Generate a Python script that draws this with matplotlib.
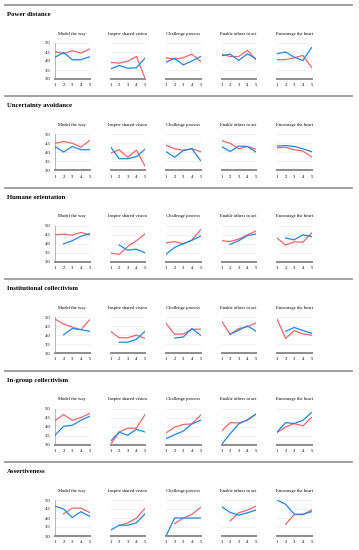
import numpy as np
import matplotlib.pyplot as plt
from matplotlib.lines import Line2D

# --- data ---
practices = ['Model the way', 'Inspire shared vision', 'Challenge process',
             'Enable others to act', 'Encourage the heart']
dimensions = ['Power distance', 'Uncertainty avoidance', 'Humane orientation',
              'Institutional collectivism', 'In-group collectivism', 'Assertiveness']
levels = [1, 2, 3, 4, 5]
y_ticks = [3.0, 3.5, 4.0, 4.5, 5.0]
y_labels = ['3.0', '3.5', '4.0', '4.5', '5.0']
nan = np.nan

# one row per practice, values for levels 1..5
power_red = [[4.53, 4.40, 4.57, 4.44, 4.66],
             [3.92, 3.88, 3.99, 4.25, 3.05],
             [4.18, 4.10, 4.18, 4.38, 3.99],
             [4.38, 4.25, 4.25, 4.59, 4.07],
             [4.07, 4.08, 4.18, 4.31, 3.64]]
power_blue = [[4.21, 4.48, 4.07, 4.07, 4.23],
              [3.56, 3.75, 3.60, 3.62, 4.16],
              [3.93, 4.16, 3.78, 4.00, 4.25],
              [4.29, 4.38, 4.03, 4.40, 4.12],
              [4.40, 4.50, 4.21, 4.03, 4.74]]

uncert_red = [[4.51, 4.60, 4.51, 4.29, 4.65],
              [3.96, 4.15, 3.73, 4.13, 3.24],
              [4.40, 4.20, 4.12, 4.20, 4.04],
              [4.65, 4.51, 4.20, 4.33, 4.18],
              [4.26, 4.28, 4.15, 4.07, 3.76]]
uncert_blue = [[4.33, 4.02, 4.33, 4.15, 4.15],
               [4.31, 3.65, 3.65, 3.76, 4.18],
               [4.04, 3.73, 4.10, 4.20, 3.55],
               [4.33, 4.05, 4.35, 4.33, 4.02],
               [4.35, 4.38, 4.33, 4.20, 4.04]]

humane_red = [[4.51, 4.53, 4.48, 4.63, 4.50],
              [3.49, 3.41, 3.85, 4.17, 4.55],
              [4.05, 4.12, 4.00, 4.20, 4.78],
              [4.17, 4.13, 4.26, 4.50, 4.71],
              [4.32, 3.93, 4.11, 4.09, 4.59]]
humane_blue = [[nan, 4.00, 4.17, 4.42, 4.56],
               [nan, 3.93, 3.65, 3.70, 3.50],
               [3.42, 3.80, 4.00, 4.20, 4.42],
               [nan, 3.97, 4.17, 4.46, 4.55],
               [nan, 4.32, 4.22, 4.50, 4.40]]

inst_red = [[4.90, 4.62, 4.45, 4.30, 4.85],
            [4.22, 3.86, 3.86, 4.01, 3.82],
            [4.66, 4.05, 4.07, 4.33, 4.33],
            [4.79, 4.05, 4.37, 4.47, 4.68],
            [4.90, 3.82, 4.26, 4.07, 4.00]]
inst_blue = [[nan, 4.03, 4.37, 4.31, 4.22],
             [nan, 3.61, 3.61, 3.77, 4.22],
             [nan, 3.84, 3.90, 4.37, 4.00],
             [nan, 4.05, 4.28, 4.52, 4.22],
             [nan, 4.22, 4.43, 4.26, 4.11]]

ingroup_red = [[4.33, 4.67, 4.35, 4.50, 4.72],
               [3.00, 3.70, 3.91, 3.91, 4.67],
               [3.65, 3.97, 4.12, 4.15, 4.63],
               [3.74, 4.22, 4.20, 4.35, 4.69],
               [3.67, 3.98, 4.17, 4.04, 4.50]]
ingroup_blue = [[3.52, 4.02, 4.07, 4.35, 4.57],
                [3.19, 3.69, 3.52, 3.85, 3.70],
                [3.33, 3.55, 3.75, 4.15, 4.35],
                [3.00, 3.60, 4.15, 4.38, 4.70],
                [3.70, 4.22, 4.17, 4.35, 4.78]]

assert_red = [[nan, 4.23, 4.55, 4.55, 4.31],
              [nan, 3.58, 3.73, 3.99, 4.53],
              [nan, 3.68, 4.00, 4.20, 4.59],
              [nan, 3.84, 4.29, 4.44, 4.66],
              [nan, 3.65, 4.19, 4.19, 4.44]]
assert_blue = [[4.66, 4.50, 4.03, 4.35, 4.10],
               [3.32, 3.60, 3.60, 3.73, 4.23],
               [3.00, 4.00, 4.00, 4.00, 4.00],
               [4.63, 4.31, 4.16, 4.29, 4.44],
               [5.00, 4.76, 4.21, 4.21, 4.35]]

red_series = [power_red, uncert_red, humane_red, inst_red, ingroup_red, assert_red]
blue_series = [power_blue, uncert_blue, humane_blue, inst_blue, ingroup_blue, assert_blue]

RED = '#f4646e'
BLUE = '#1e88e0'
SERIF = ['Liberation Serif', 'DejaVu Serif']

# --- layout in pixels ---
W, H = 359, 550
fig = plt.figure(figsize=(W / 100, H / 100), dpi=100)
fig.patch.set_facecolor('white')

def fx(x):
    return x / W

def fy(y):
    return 1 - y / H

col_left = [55, 110.5, 166, 221.5, 277]
ax_w, ax_h = 34.5, 36
row_step = 91.4

for r, dim in enumerate(dimensions):
    top = 5 + r * row_step
    # section rule and heading
    fig.add_artist(Line2D([fx(5), fx(352)], [fy(top), fy(top)], color='#9a9a9a',
                          lw=1.3, transform=fig.transFigure))
    fig.text(fx(7), fy(top + 9.5), dim, fontsize=4.9, fontweight='bold',
             family=SERIF, va='center', ha='left')

    for c, name in enumerate(practices):
        ax = fig.add_axes([fx(col_left[c]), fy(top + 38 + ax_h), fx(ax_w), ax_h / H])
        ax.set_xlim(1, 5)
        ax.set_ylim(3.0, 5.0)
        for yv in y_ticks[1:]:
            ax.axhline(yv, color='#ebebeb', lw=0.5, zorder=0)
        ax.plot(levels, red_series[r][c], color=RED, lw=0.9, zorder=3)
        ax.plot(levels, blue_series[r][c], color=BLUE, lw=0.9, zorder=4)

        for s in ['top', 'right']:
            ax.spines[s].set_visible(False)
        ax.spines['bottom'].set_color('#8c8c8c')
        ax.spines['bottom'].set_linewidth(1.4)
        ax.set_xticks(levels)
        ax.set_xticklabels([str(v) for v in levels], fontsize=3.3, family=SERIF)
        ax.tick_params(axis='x', length=0, pad=3)
        if c == 0:
            ax.spines['left'].set_color('#9a9a9a')
            ax.spines['left'].set_linewidth(0.5)
            ax.set_yticks(y_ticks)
            ax.set_yticklabels(y_labels, fontsize=3.3, family=SERIF)
            ax.tick_params(axis='y', length=0, pad=3)
        else:
            ax.spines['left'].set_visible(False)
            ax.set_yticks([])
        ax.set_title(name, fontsize=3.3, family=SERIF, pad=6)

fig.savefig('out.png', dpi=100)
